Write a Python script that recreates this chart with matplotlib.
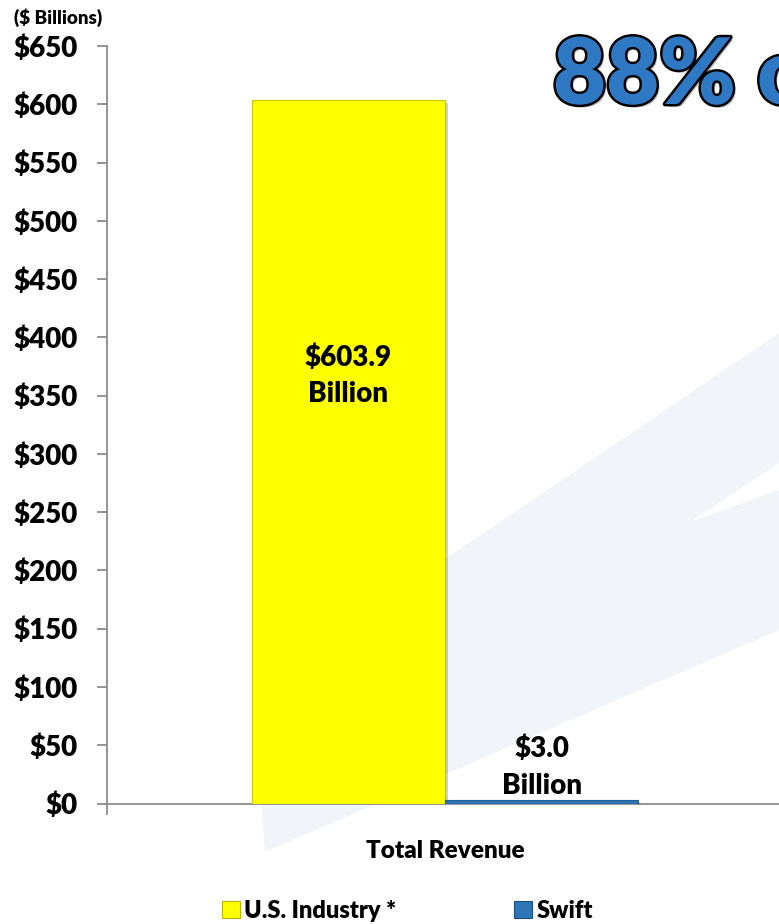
import matplotlib
matplotlib.use("Agg")
import matplotlib.pyplot as plt
import matplotlib.patheffects as pe
from matplotlib.patches import Patch, Polygon
import numpy as np

# ---- data ----
categories = ["Total Revenue"]
series_names = ["U.S. Industry *", "Swift"]
series_values = [[603.9], [3.0]]
series_colors = ["#ffff00", "#2e75b6"]
value_labels = ["$603.9\nBillion", "$3.0\nBillion"]
y_ticks = list(range(0, 651, 50))
y_tick_labels = [f"${v}" for v in y_ticks]
unit_label = "($ Billions)"
headline = "88% of"

FONT = ["Liberation Sans Narrow", "Lato", "DejaVu Sans"]
WEIGHT = "heavy"
plt.rcParams["font.family"] = FONT
plt.rcParams["font.weight"] = WEIGHT

W, H = 779, 924
fig = plt.figure(figsize=(W / 100, H / 100), dpi=100)
fig.patch.set_facecolor("white")


def fx(px):
    return px / W


def fy(py):
    return 1 - py / H


# faint background swoosh
swoosh = [(265, 852), (252, 690), (779, 333), (779, 463), (690, 522),
          (779, 490), (779, 630)]
fig.add_artist(Polygon([(fx(x), fy(y)) for x, y in swoosh], closed=True,
                       transform=fig.transFigure, facecolor="#f1f4f8",
                       edgecolor="none", zorder=-5))

# axes placement
ax = fig.add_axes([fx(107), fy(803.5), fx(783) - fx(107), fy(46) - fy(803.5)])
ax.set_facecolor("none")
ax.set_xlim(-0.5, 0.5)
ax.set_ylim(0, 650)

x = np.arange(len(categories))
bar_w = 0.286
offsets = [-bar_w / 2, bar_w / 2]
for vals, off, col, edge in zip(series_values, offsets, series_colors,
                                ["#c9c900", "#1f5f99"]):
    b = ax.bar(x + off, vals, width=bar_w, color=col, edgecolor=edge,
               linewidth=0.8, zorder=3)
    for p in b:
        p.set_path_effects([pe.SimplePatchShadow(offset=(2, -2), alpha=0.25),
                            pe.Normal()])

# value labels
ax.annotate(value_labels[0], xy=(x[0] + offsets[0], 0.565),
            xycoords=("data", "axes fraction"), ha="center", va="center",
            fontsize=20, fontweight=WEIGHT, linespacing=1.5, zorder=5)
ax.annotate(value_labels[1], xy=(x[0] + offsets[1], series_values[1][0]),
            xytext=(0, 1), textcoords="offset points", ha="center",
            va="bottom", fontsize=20, fontweight=WEIGHT, linespacing=1.5,
            zorder=5)

# axes styling
axis_col = "#8c8c8c"
for s in ["top", "right"]:
    ax.spines[s].set_visible(False)
for s in ["left", "bottom"]:
    ax.spines[s].set_color(axis_col)
    ax.spines[s].set_linewidth(1.3)

ax.set_yticks(y_ticks)
ax.set_yticklabels(y_tick_labels, fontsize=20, fontweight=WEIGHT)
ax.tick_params(axis="y", direction="out", length=7.2, width=1.3,
               color=axis_col, pad=14)

ax.set_xticks(x)
ax.set_xticklabels(categories, fontsize=17.5, fontweight=WEIGHT)
ax.set_xticks([-0.5, 0.5], minor=True)
ax.tick_params(axis="x", which="major", length=0, pad=26)
ax.tick_params(axis="x", which="minor", direction="out", length=8,
               width=1.3, color=axis_col)

fig.text(fx(14), fy(18), unit_label, ha="left", va="center", fontsize=13.5,
         fontweight=WEIGHT)

# headline
fig.text(fx(553), fy(104), headline, ha="left", va="baseline", fontsize=66,
         fontweight=WEIGHT, color="#2f78c4",
         path_effects=[pe.SimplePatchShadow(offset=(2, -2), alpha=0.3),
                       pe.Stroke(linewidth=3.5, foreground="black"),
                       pe.Normal()])

# legend
handles = [Patch(facecolor=c, edgecolor=e, linewidth=0.8)
           for c, e in zip(series_colors, ["#b5b500", "#1f4f80"])]
fig.legend(handles, series_names, loc="center left",
           bbox_to_anchor=(fx(210), fy(911)), ncol=2, frameon=False,
           handlelength=0.75, handleheight=0.75,
           handletextpad=0.2, columnspacing=5.0, borderpad=0,
           prop={"weight": WEIGHT, "size": 17})

fig.savefig("out.png", dpi=100, facecolor="white")
